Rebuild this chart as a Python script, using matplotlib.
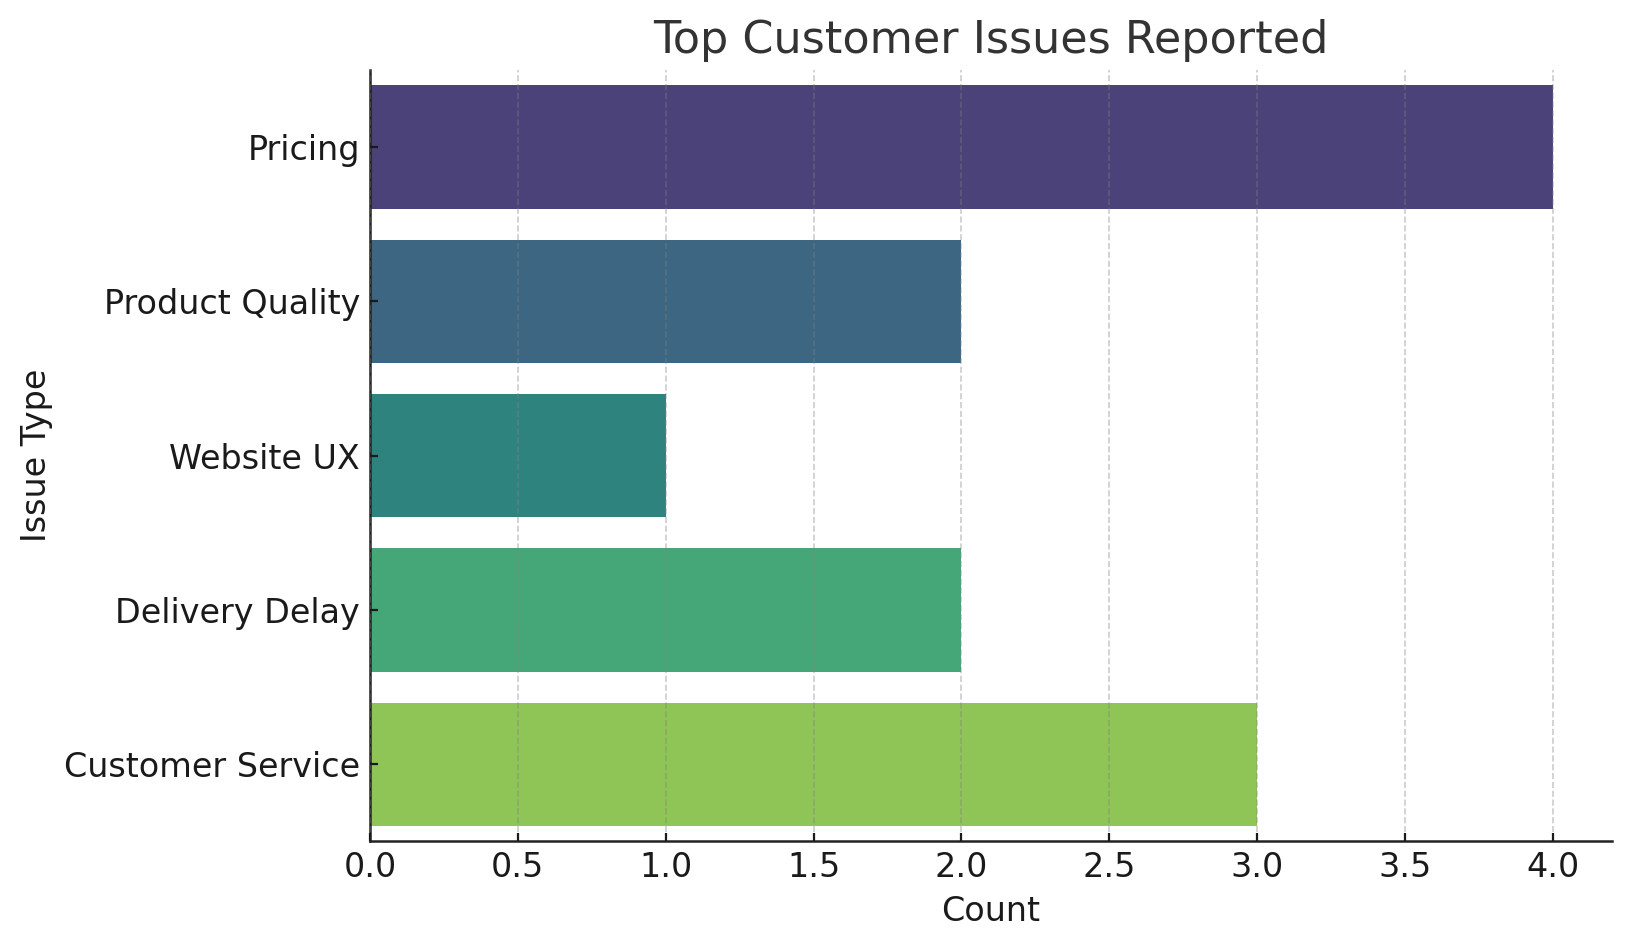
# Top customer issues - horizontal bar chart of issue counts

import pandas as pd
import matplotlib
matplotlib.use("Agg")
import matplotlib.pyplot as plt
import seaborn as sns

# data
issues = ["Pricing", "Product Quality", "Website UX", "Delivery Delay", "Customer Service"]
counts = [4, 2, 1, 2, 3]

df = pd.DataFrame({"Issue Type": issues, "Count": counts})

plt.rcParams['font.family'] = ['DejaVu Sans']

fig = plt.figure(figsize=(8.145, 4.735), dpi=200)
ax = fig.add_axes([0.2271, 0.1115, 0.7625, 0.8146])

sns.barplot(data=df, x="Count", y="Issue Type", hue="Issue Type",
            palette="viridis", legend=False, ax=ax)

ax.set_title("Top Customer Issues Reported", fontsize=16, color="#333333")
ax.set_xlabel("Count", fontsize=12, color="#1a1a1a")
ax.set_ylabel("Issue Type", fontsize=12, color="#1a1a1a")
ax.tick_params(axis="both", labelsize=12, direction="in", length=3,
               width=0.8, colors="#1a1a1a")

ax.grid(axis="x", linestyle="--", color="grey", alpha=0.4, linewidth=0.6)
ax.grid(axis="y", visible=False)
ax.set_axisbelow(False)

for side in ["top", "right"]:
    ax.spines[side].set_visible(False)
for side in ["left", "bottom"]:
    ax.spines[side].set_color("#222222")
    ax.spines[side].set_linewidth(0.9)

plt.savefig("out.png", dpi=200)
